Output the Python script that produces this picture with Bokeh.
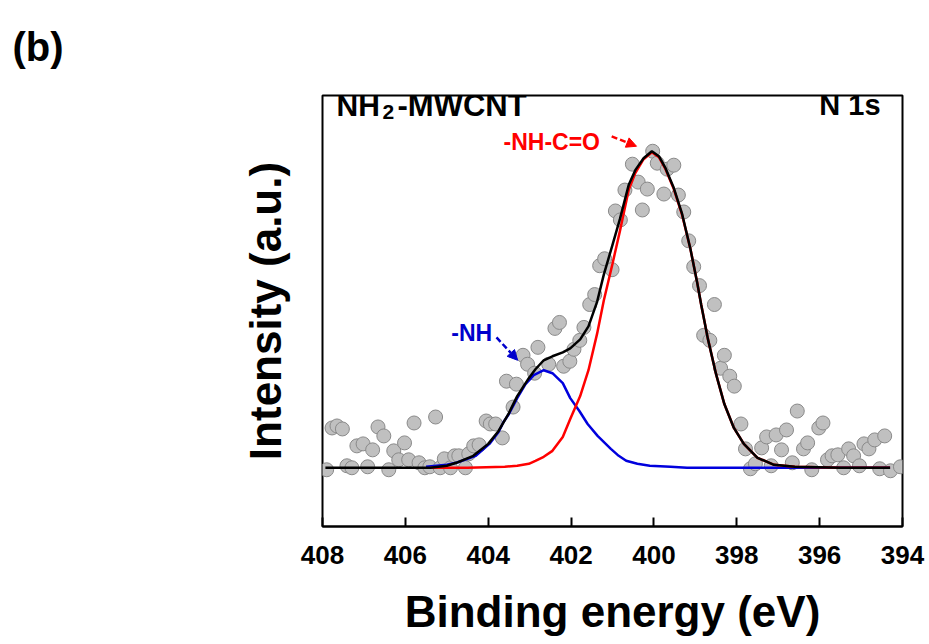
from bokeh.plotting import figure
from bokeh.models import Range1d, FixedTicker, Label, Arrow, NormalHead
from bokeh.embed import file_html
from bokeh.resources import INLINE

# ---------------- data ----------------
x_ticks = [408, 406, 404, 402, 400, 398, 396, 394]

# measured XPS N 1s points (binding energy in eV, intensity in a.u.)
exp_be = [407.90, 407.77, 407.65, 407.52, 407.41, 407.29, 407.17, 407.02, 406.91, 406.79,
          406.66, 406.52, 406.40, 406.28, 406.16, 406.02, 405.92, 405.79, 405.67, 405.53,
          405.41, 405.27, 405.16, 405.06, 404.91, 404.81, 404.71, 404.55, 404.47, 404.35,
          404.22, 404.05, 403.95, 403.82, 403.66, 403.56, 403.40, 403.32, 403.16, 403.05,
          402.88, 402.80, 402.54, 402.39, 402.28, 402.18, 402.03, 401.93, 401.79, 401.69,
          401.55, 401.43, 401.31, 401.19, 401.01, 400.93, 400.81, 400.70, 400.52, 400.38,
          400.28, 400.16, 400.03, 399.92, 399.76, 399.68, 399.52, 399.41, 399.28, 399.16,
          399.04, 398.90, 398.80, 398.65, 398.54, 398.39, 398.30, 398.17, 398.06, 397.90,
          397.79, 397.67, 397.55, 397.40, 397.28, 397.17, 397.05, 396.92, 396.80, 396.66,
          396.54, 396.39, 396.29, 396.19, 396.02, 395.92, 395.81, 395.70, 395.56, 395.42,
          395.30, 395.18, 395.04, 394.93, 394.81, 394.67, 394.55, 394.43, 394.29, 394.05]
exp_int = [-2, 40, 42, 39, 2, 0, 22, 24, 1, 18,
           41, 32, -2, 17, 8, 25, 8, 45, 5, 0,
           1, 51, 0, 9, 0, 12, 12, 0, 14, 22,
           23, 47, 44, 44, 30, 87, 61, 84, 113, 104,
           95, 121, 104, 140, 146, 102, 107, 119, 128, 141,
           164, 174, 203, 210, 199, 258, 249, 279, 305, 287,
           259, 280, 318, 306, 275, 300, 304, 274, 257, 228,
           202, 183, 133, 128, 164, 100, 113, 92, 82, 44,
           19, -1, 4, 20, 31, 2, 33, 18, 38, 5,
           57, 19, 25, -2, 40, 45, 8, 12, 13, 0,
           19, 12, 2, 24, 19, 28, -1, 32, -3, 1]

# fitted component -NH (blue)
nh_be = [405.5, 405.0, 404.77, 404.3, 403.97, 403.75, 403.63, 403.5, 403.3, 403.1, 402.9,
         402.66, 402.45, 402.2, 402.02, 401.8, 401.6, 401.36, 401.04, 400.85, 400.67,
         400.4, 400.1, 399.6, 399.2, 394.3]
nh_int = [1, 3, 5, 12, 24, 36, 46, 54, 70, 84, 93,
          98, 95, 85, 70, 57, 44, 32, 19, 12, 7,
          4, 2, 1, 0, 0]

# fitted component -NH-C=O (red)
amide_be = [405.4, 404.5, 403.6, 403.3, 403.02, 402.86, 402.66, 402.45, 402.2, 402.02,
            401.78, 401.58, 401.37, 401.21, 401.0, 400.82, 400.61, 400.45, 400.25, 400.05,
            399.88, 399.72, 399.52, 399.32, 399.12, 398.96, 398.86, 398.77, 398.70, 398.5,
            398.3, 398.07, 397.83, 397.5, 397.1, 396.6, 395.5, 394.3]
amide_int = [0, 0, 1, 2, 4, 7, 11, 17, 31, 49,
             72, 98, 135, 168, 205, 238, 279, 296, 310, 317,
             312, 300, 280, 254, 220, 187, 164, 145, 130, 94,
             64, 40, 24, 10, 3, 1, 0, 0]

# envelope (black)
sum_be = [407.93, 405.4, 405.0, 404.77, 404.36, 404.0, 403.75, 403.5, 403.3, 403.02,
          402.86, 402.66, 402.45, 402.2, 402.02, 401.78, 401.58, 401.37, 401.21, 401.0,
          400.82, 400.61, 400.45, 400.25, 400.05, 399.88, 399.72, 399.52, 399.32, 399.12,
          398.96, 398.86, 398.77, 398.70, 398.5, 398.3, 398.07, 397.83, 397.5, 397.1,
          396.6, 395.5, 394.3]
sum_int = [0, 0, 2, 5, 12, 24, 37, 55, 72, 90,
           99, 108, 112, 116, 120, 129, 142, 167, 194, 224,
           250, 284, 299, 311, 318, 313, 301, 281, 255, 220,
           187, 164, 145, 130, 94, 64, 40, 24, 10, 3,
           1, 0, 0]

FONT = "Liberation Sans"

p = figure(width=929, height=644, output_backend="svg", toolbar_location=None,
           x_range=Range1d(408, 394), y_range=Range1d(-59, 374),
           min_border_left=322, min_border_right=27, min_border_top=93,
           min_border_bottom=118)
p.background_fill_color = "white"
p.border_fill_color = "white"
p.grid.visible = False
p.outline_line_color = "black"
p.outline_line_width = 2
p.outline_line_alpha = 1.0

# panel label "(b)" as a title shifted to the far left
p.title.text = "(b)"
p.title.align = "left"
p.title.vertical_align = "top"
p.title.offset = -310
p.title.standoff = 49
p.title.text_font = FONT
p.title.text_font_style = "bold"
p.title.text_font_size = "40px"
p.title.text_color = "black"

xa = p.xaxis[0]
xa.ticker = FixedTicker(ticks=x_ticks)
xa.major_tick_in = 9
xa.major_tick_out = 0
xa.major_tick_line_width = 2
xa.minor_tick_line_color = None
xa.axis_line_width = 2
xa.major_label_text_font = FONT
xa.major_label_text_font_style = "bold"
xa.major_label_text_font_size = "26px"
xa.major_label_text_color = "black"
xa.major_label_standoff = 19
xa.axis_label = "Binding energy (eV)"
xa.axis_label_text_font = FONT
xa.axis_label_text_font_style = "bold"
xa.axis_label_text_font_size = "44px"
xa.axis_label_text_color = "black"
xa.axis_label_standoff = 20

ya = p.yaxis[0]
ya.ticker = FixedTicker(ticks=[])
ya.major_tick_line_color = None
ya.minor_tick_line_color = None
ya.axis_line_color = None
ya.major_label_text_font_size = "0px"
ya.axis_label = "Intensity (a.u.)"
ya.axis_label_text_font = FONT
ya.axis_label_text_font_style = "bold"
ya.axis_label_text_font_size = "44px"
ya.axis_label_text_color = "black"
ya.axis_label_standoff = 33

# data & fits
p.scatter(exp_be, exp_int, size=14, fill_color="#c0c0c0", line_color="#8a8a8a", line_width=1)
p.line(nh_be, nh_int, line_color="#0000dd", line_width=2.5)
p.line(amide_be, amide_int, line_color="#ff0000", line_width=2.5)
p.line(sum_be, sum_int, line_color="black", line_width=2.5)

def lab(x, y, text, size, color="black", align="left"):
    p.add_layout(Label(x=x, y=y, text=text, text_font=FONT, text_font_style="bold",
                       text_font_size=size, text_color=color, text_align=align,
                       text_baseline="alphabetic"))

lab(407.66, 363.7, "NH", "30px")
lab(406.55, 357, "2", "21px")
lab(406.19, 363.7, "-MWCNT", "31px")
lab(394.53, 364, "N 1s", "29px", align="right")
lab(403.63, 327, "-NH-C=O", "23px", color="#ff0000")
lab(404.89, 135, "-NH", "23px", color="#0000cc")

p.add_layout(Arrow(end=NormalHead(size=10, fill_color="#ff0000", line_color="#ff0000"),
                   x_start=401.02, y_start=333, x_end=400.42, y_end=323,
                   line_color="#ff0000", line_width=2.5, line_dash="6 3"))
p.add_layout(Arrow(end=NormalHead(size=10, fill_color="#0000cc", line_color="#0000cc"),
                   x_start=403.80, y_start=131, x_end=403.29, y_end=108,
                   line_color="#0000cc", line_width=2.5, line_dash="6 3"))

open("out.html", "w").write(file_html(p, INLINE))
